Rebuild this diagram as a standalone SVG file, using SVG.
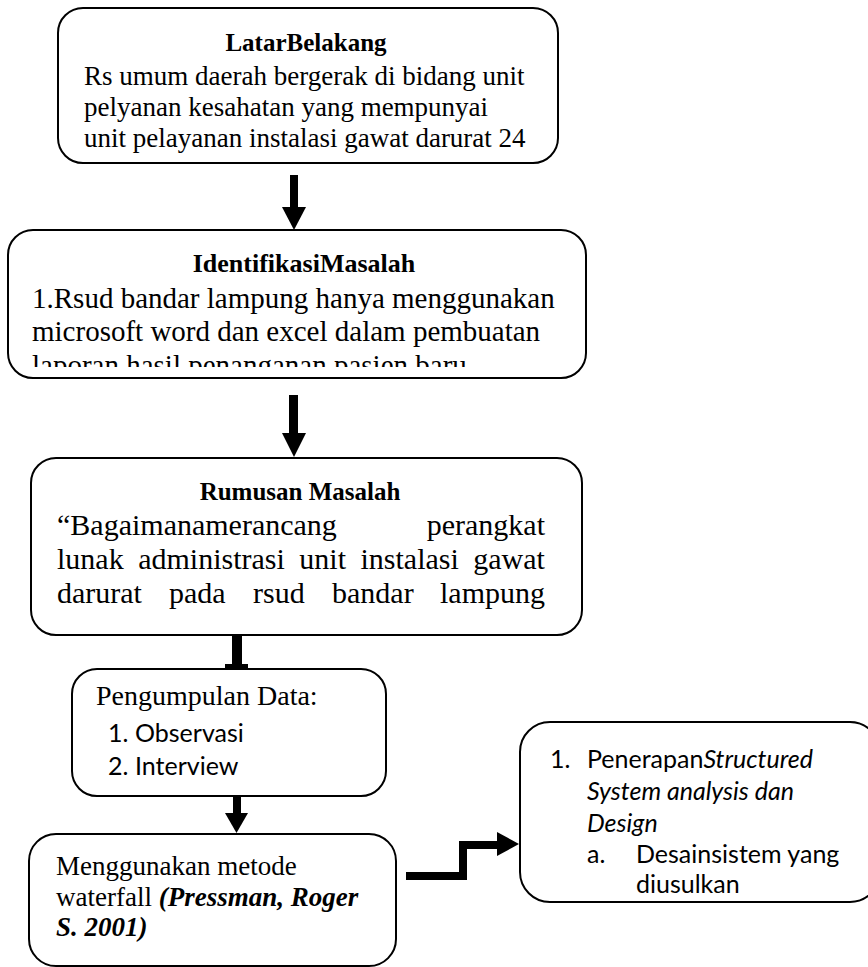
<svg xmlns="http://www.w3.org/2000/svg" width="868" height="967" viewBox="0 0 868 967">
<style>
.box{fill:#fff;stroke:#000;stroke-width:2}
.t{font-family:"Liberation Serif","Times New Roman",serif;fill:#000}
.b{font-weight:bold}
.c{font-family:Lato,"Liberation Sans",sans-serif;fill:#000}
.ar{fill:#000}
</style>
<defs>
<clipPath id="clip2"><rect x="8" y="230" width="580" height="137"/></clipPath>
</defs>
<rect x="0" y="0" width="868" height="967" fill="#fff"/>
<g id="latar">
<rect class="box" x="58" y="8" width="500" height="155" rx="25"/>
<text class="t b" x="306" y="51" font-size="25" text-anchor="middle">LatarBelakang</text>
<text class="t" x="84" y="85" font-size="27">Rs umum daerah bergerak di bidang unit</text>
<text class="t" x="84" y="116" font-size="27">pelyanan kesahatan yang mempunyai</text>
<text class="t" x="84" y="147" font-size="27">unit pelayanan instalasi gawat darurat 24</text>
</g>
<g id="identifikasi">
<rect class="box" x="8" y="230" width="578" height="148" rx="25"/>
<text class="t b" x="304" y="272" font-size="26" text-anchor="middle">IdentifikasiMasalah</text>
<text class="t" x="32" y="308" font-size="29">1.Rsud bandar lampung hanya menggunakan</text>
<text class="t" x="32" y="341" font-size="29">microsoft word dan excel dalam pembuatan</text>
<text class="t" x="32" y="375" font-size="29" clip-path="url(#clip2)">laporan hasil penanganan pasien baru</text>
</g>
<g id="rumusan">
<rect class="box" x="31" y="458" width="551" height="177" rx="25"/>
<text class="t b" x="300" y="500" font-size="25" text-anchor="middle">Rumusan Masalah</text>
<text class="t" x="57" y="535" font-size="30">“Bagaimanamerancang</text>
<text class="t" x="545" y="535" font-size="30" text-anchor="end">perangkat</text>
<text class="t" x="57" y="569" font-size="30" word-spacing="7">lunak administrasi unit instalasi gawat</text>
<text class="t" x="57" y="603" font-size="30">darurat</text>
<text class="t" x="169" y="603" font-size="30">pada</text>
<text class="t" x="253" y="603" font-size="30">rsud</text>
<text class="t" x="332" y="603" font-size="30">bandar</text>
<text class="t" x="545" y="603" font-size="30" text-anchor="end">lampung</text>
</g>
<g id="pengumpulan">
<rect class="box" x="72" y="669" width="314" height="127" rx="25"/>
<text class="t" x="96" y="705" font-size="28">Pengumpulan Data:</text>
<text class="c" x="108" y="742" font-size="25">1.</text>
<text class="c" x="135" y="742" font-size="25">Observasi</text>
<text class="c" x="108" y="775" font-size="25">2.</text>
<text class="c" x="135" y="775" font-size="25">Interview</text>
</g>
<g id="metode">
<rect class="box" x="29" y="834" width="367" height="132" rx="27"/>
<text class="t" x="56" y="875" font-size="27">Menggunakan metode</text>
<text class="t" x="56" y="906" font-size="27">waterfall <tspan font-weight="bold" font-style="italic">(Pressman, Roger</tspan></text>
<text class="t" x="56" y="936" font-size="27" font-weight="bold" font-style="italic">S. 2001)</text>
</g>
<g id="penerapan">
<rect class="box" x="520" y="722" width="360" height="180" rx="30"/>
<text class="c" x="550" y="768" font-size="25">1.</text>
<text class="c" x="587" y="768" font-size="25">Penerapan<tspan font-style="italic">Structured</tspan></text>
<text class="c" x="587" y="800" font-size="25" font-style="italic">System analysis dan</text>
<text class="c" x="587" y="832" font-size="25" font-style="italic">Design</text>
<text class="c" x="587" y="863" font-size="25">a.</text>
<text class="c" x="636" y="863" font-size="25">Desainsistem yang</text>
<text class="c" x="636" y="893" font-size="25">diusulkan</text>
</g>
<g id="connectors">
<rect class="ar" x="290" y="175" width="8" height="33"/>
<polygon class="ar" points="282,207 306,207 294,230"/>
<rect class="ar" x="289" y="395" width="9" height="39"/>
<polygon class="ar" points="282,433 306,433 294,457"/>
<rect class="ar" x="232" y="635" width="10" height="34"/>
<rect class="ar" x="225" y="664" width="23" height="5"/>
<rect class="ar" x="233" y="796" width="8" height="18"/>
<polygon class="ar" points="225,813 248,813 236.5,833"/>
<path d="M406,876 H463 V845 H500" fill="none" stroke="#000" stroke-width="8"/>
<polygon class="ar" points="497,832 519,844 497,856"/>
</g>
</svg>
